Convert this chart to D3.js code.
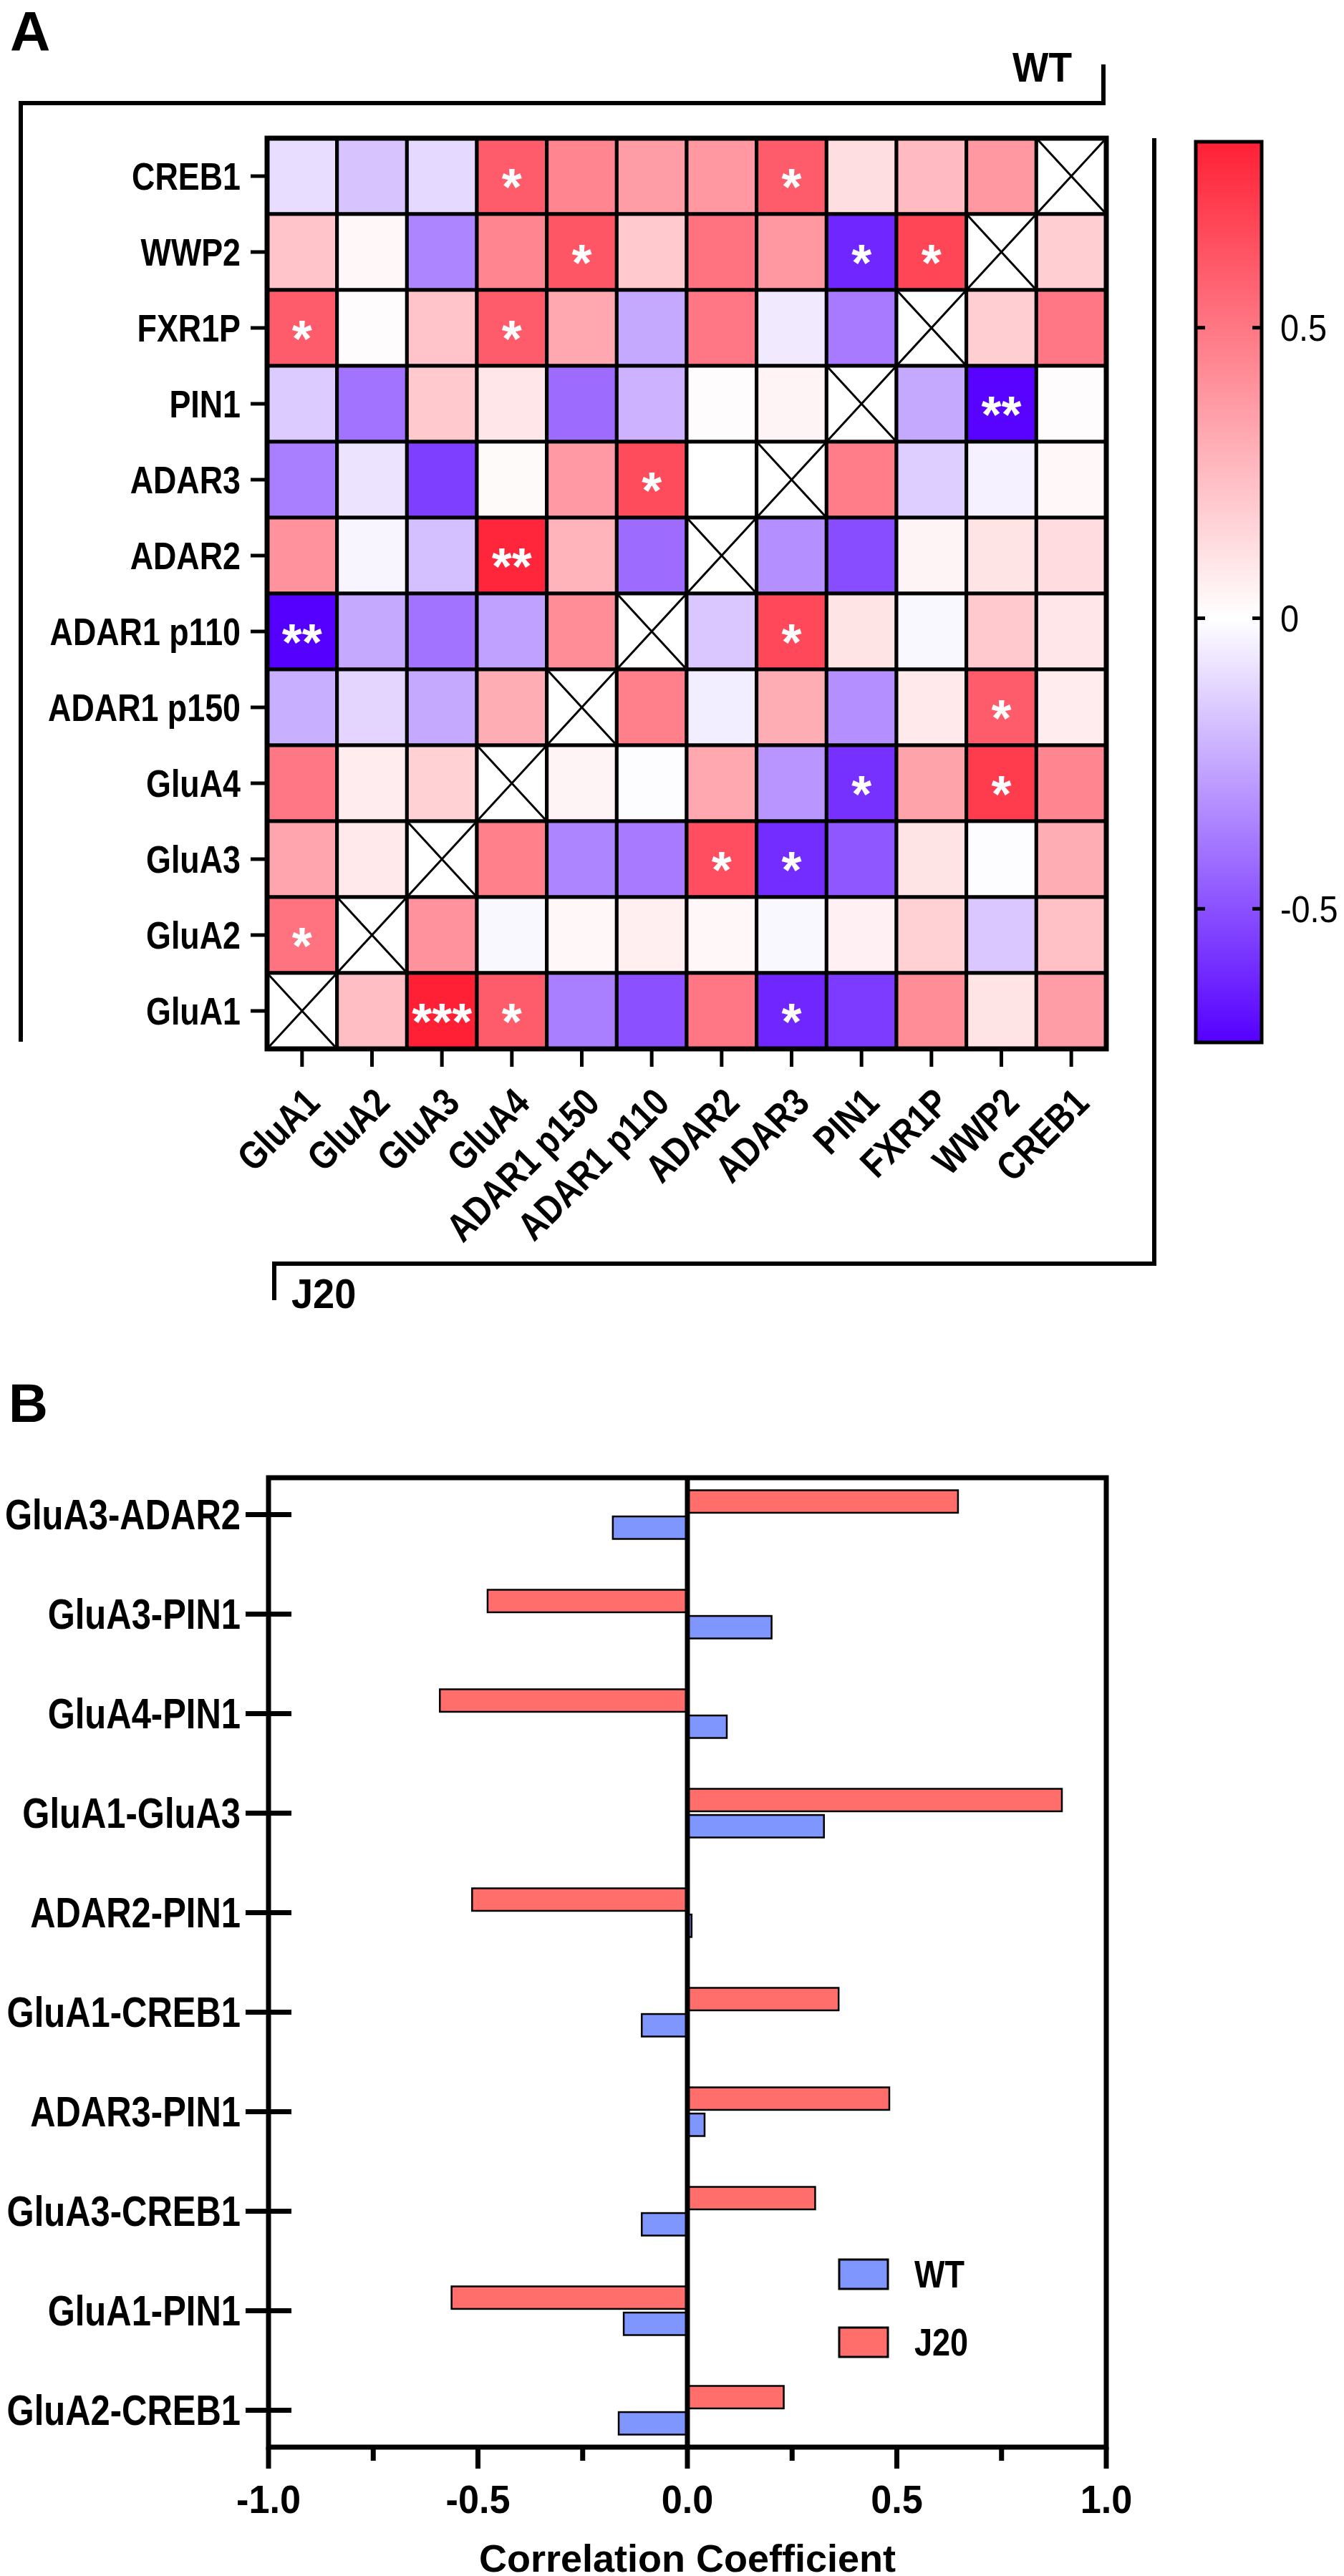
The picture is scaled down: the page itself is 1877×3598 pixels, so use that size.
<!DOCTYPE html>
<html><head><meta charset="utf-8">
<script src="https://cdn.jsdelivr.net/npm/d3@7"></script>
<style>
body{margin:0;background:#fff}
svg{display:block}
text{font-family:"Liberation Sans",Arial,Helvetica,sans-serif}
</style>
</head><body>
<svg id="chart" width="1877" height="3598"></svg>
<script>
// ---------- DATA ----------
const genes = ["GluA1","GluA2","GluA3","GluA4","ADAR1 p150","ADAR1 p110","ADAR2","ADAR3","PIN1","FXR1P","WWP2","CREB1"];
const heatRows = genes.slice().reverse(); // top-to-bottom order as drawn
// rows top-to-bottom (CREB1 ... GluA1), columns GluA1 ... CREB1; null = diagonal
const heatValues = [
  [-0.10,-0.17,-0.11, 0.60, 0.45, 0.36, 0.38, 0.60, 0.12, 0.25, 0.38, null],
  [ 0.22, 0.03,-0.35, 0.45, 0.62, 0.20, 0.52, 0.38,-0.62, 0.68, null, 0.18],
  [ 0.60, 0.01, 0.22, 0.60, 0.32,-0.25, 0.50,-0.06,-0.38, null, 0.18, 0.50],
  [-0.15,-0.40, 0.20, 0.09,-0.42,-0.22, 0.01, 0.04, null,-0.25,-0.72, 0.01],
  [-0.37,-0.08,-0.55, 0.02, 0.37, 0.66, 0.00, null, 0.48,-0.14,-0.04, 0.03],
  [ 0.40,-0.03,-0.18, 0.80, 0.28,-0.42, null,-0.32,-0.51, 0.04, 0.10, 0.13],
  [-0.73,-0.25,-0.40,-0.27, 0.42, null,-0.16, 0.67, 0.10,-0.02, 0.20, 0.09],
  [-0.23,-0.12,-0.25, 0.30, null, 0.47,-0.05, 0.30,-0.32, 0.08, 0.60, 0.07],
  [ 0.50, 0.07, 0.17, null, 0.04,-0.01, 0.32,-0.30,-0.59, 0.34, 0.72, 0.45],
  [ 0.33, 0.08, null, 0.47,-0.35,-0.38, 0.65,-0.60,-0.48, 0.10,-0.01, 0.30],
  [ 0.52, null, 0.40,-0.02, 0.03, 0.06, 0.03,-0.02, 0.05, 0.17,-0.16, 0.23],
  [ null, 0.24, 0.89, 0.60,-0.37,-0.50, 0.50,-0.62,-0.56, 0.42, 0.10, 0.36]
];
const heatStars = [
  ["","","","*","","","","*","","","",""],
  ["","","","","*","","","","*","*","",""],
  ["*","","","*","","","","","","","",""],
  ["","","","","","","","","","","**",""],
  ["","","","","","*","","","","","",""],
  ["","","","**","","","","","","","",""],
  ["**","","","","","","","*","","","",""],
  ["","","","","","","","","","","*",""],
  ["","","","","","","","","*","","*",""],
  ["","","","","","","*","*","","","",""],
  ["*","","","","","","","","","","",""],
  ["","","***","*","","","","*","","","",""]
];
const colorDomain = [-0.73, 0, 0.82];
const colorRange = ["#5500ff", "#ffffff", "#ff2035"];
const colorbarTicks = [0.5, 0, -0.5];

const pairs = ["GluA3-ADAR2","GluA3-PIN1","GluA4-PIN1","GluA1-GluA3","ADAR2-PIN1","GluA1-CREB1","ADAR3-PIN1","GluA3-CREB1","GluA1-PIN1","GluA2-CREB1"];
const seriesNames = ["J20","WT"];
const legendOrder = ["WT","J20"];
const j20Values = [0.646,-0.477,-0.591,0.894,-0.514,0.361,0.482,0.305,-0.563,0.230];
const wtValues  = [-0.178,0.201,0.094,0.326,0.010,-0.109,0.041,-0.109,-0.152,-0.164];
const xTicksMajor = [-1,-0.5,0,0.5,1];
const xTicksMinor = [-0.75,-0.25,0.25,0.75];
const seriesColors = {WT:"#8096ff", J20:"#ff6e6a"};

// ---------- HELPERS ----------
const SX = 0.83; // horizontal condensation of label text
function condense(sel, sx) {
  sel.each(function(){
    const t = d3.select(this);
    const x = +t.attr("x") || 0, y = +t.attr("y") || 0;
    const prev = t.attr("transform") || "";
    t.attr("x",0).attr("y",0).attr("transform", `${prev} translate(${x},${y}) scale(${sx},1)`);
  });
}

// ---------- DRAW ----------
const svg = d3.select("#chart");
svg.append("rect").attr("width",1877).attr("height",3598).attr("fill","#fff");

// Panel letters
svg.append("text").attr("x",14).attr("y",71).attr("font-size",78).attr("font-weight","bold").text("A");
svg.append("text").attr("x",12).attr("y",1986).attr("font-size",76).attr("font-weight","bold").text("B");

// ---- Heatmap ----
const hm = {x0:373, x1:1545, y0:193, y1:1465};
const hx = d3.scaleBand().domain(genes).range([hm.x0, hm.x1]);
const hy = d3.scaleBand().domain(heatRows).range([hm.y0, hm.y1]);
const color = d3.scaleLinear().domain(colorDomain).range(colorRange).clamp(true);

const cells = [];
heatRows.forEach((r,i)=>genes.forEach((c,j)=>cells.push({r, c, v:heatValues[i][j], s:heatStars[i][j]})));

const hg = svg.append("g");
hg.selectAll("rect.cell").data(cells).join("rect").attr("class","cell")
  .attr("x",d=>hx(d.c)).attr("y",d=>hy(d.r))
  .attr("width",hx.bandwidth()).attr("height",hy.bandwidth())
  .attr("fill",d=>d.v==null?"#fff":color(d.v))
  .attr("stroke","#000").attr("stroke-width",5);

const diag = cells.filter(d=>d.v==null);
hg.selectAll("path.x").data(diag).join("path").attr("class","x")
  .attr("d",d=>{const x=hx(d.c), y=hy(d.r), w=hx.bandwidth(), h=hy.bandwidth();
    return `M${x},${y}L${x+w},${y+h}M${x+w},${y}L${x},${y+h}`;})
  .attr("stroke","#000").attr("stroke-width",3).attr("fill","none");

hg.selectAll("text.star").data(cells.filter(d=>d.s)).join("text").attr("class","star")
  .attr("x",d=>hx(d.c)+hx.bandwidth()/2)
  .attr("y",d=>hy(d.r)+hy.bandwidth()/2+40)
  .attr("text-anchor","middle").attr("fill","#fff").attr("font-weight","bold").attr("font-size",72)
  .text(d=>d.s);

hg.append("rect").attr("x",hm.x0).attr("y",hm.y0).attr("width",hm.x1-hm.x0).attr("height",hm.y1-hm.y0)
  .attr("fill","none").attr("stroke","#000").attr("stroke-width",7);

// heatmap axes
svg.append("g").attr("transform",`translate(${hm.x0},0)`)
  .call(d3.axisLeft(hy).tickSize(23).tickPadding(14))
  .call(a=>{a.select(".domain").remove();
    a.selectAll(".tick line").attr("stroke","#000").attr("stroke-width",5);
    a.selectAll(".tick text").attr("font-size",54).attr("font-weight","bold").attr("fill","#000").attr("dy","0.35em")
      .call(condense, SX);});

svg.append("g").attr("transform",`translate(0,${hm.y1})`)
  .call(d3.axisBottom(hx).tickSize(25))
  .call(a=>{a.select(".domain").remove();
    a.selectAll(".tick line").attr("stroke","#000").attr("stroke-width",5);
    a.selectAll(".tick text").attr("font-size",55).attr("font-weight","bold").attr("fill","#000")
      .attr("y",0).attr("dy","0.35em").attr("text-anchor","end")
      .attr("transform","translate(14,65) rotate(-45)")
      .call(condense, SX);});

// brackets
svg.append("path").attr("d","M29,1455V144H1541V90").attr("fill","none").attr("stroke","#000").attr("stroke-width",6);
svg.append("text").attr("x",1497).attr("y",114).attr("text-anchor","end").attr("font-size",58).attr("font-weight","bold").text("WT")
  .call(condense, 0.92);
svg.append("path").attr("d","M1612,193V1765H383V1816").attr("fill","none").attr("stroke","#000").attr("stroke-width",6);
svg.append("text").attr("x",407).attr("y",1827).attr("font-size",57).attr("font-weight","bold").text("J20")
  .call(condense, 0.95);

// colorbar
const cb = {x0:1670, x1:1762, y0:198, y1:1456};
const cy = d3.scaleLinear().domain([colorDomain[0], colorDomain[2]]).range([cb.y1, cb.y0]);
const defs = svg.append("defs");
const grad = defs.append("linearGradient").attr("id","cbgrad").attr("x1",0).attr("y1",1).attr("x2",0).attr("y2",0);
grad.selectAll("stop").data(colorDomain).join("stop")
  .attr("offset",d=>(d-colorDomain[0])/(colorDomain[2]-colorDomain[0]))
  .attr("stop-color",d=>color(d));
svg.append("rect").attr("x",cb.x0).attr("y",cb.y0).attr("width",cb.x1-cb.x0).attr("height",cb.y1-cb.y0)
  .attr("fill","url(#cbgrad)").attr("stroke","#000").attr("stroke-width",5);
const cbt = svg.append("g");
colorbarTicks.forEach(t=>{
  cbt.append("line").attr("x1",cb.x0).attr("x2",cb.x0+13).attr("y1",cy(t)).attr("y2",cy(t)).attr("stroke","#000").attr("stroke-width",5);
  cbt.append("line").attr("x1",cb.x1-13).attr("x2",cb.x1).attr("y1",cy(t)).attr("y2",cy(t)).attr("stroke","#000").attr("stroke-width",5);
  cbt.append("text").attr("x",1788).attr("y",cy(t)).attr("dy","0.35em").attr("font-size",52).text(String(t))
    .call(condense, 0.9);
});

// ---- Bar chart ----
const bc = {x0:375, x1:1545, y0:2064, y1:3418};
const bx = d3.scaleLinear().domain([-1,1]).range([bc.x0, bc.x1]);
const by = d3.scaleBand().domain(pairs).range([2046, 3436]);
const bs = d3.scaleBand().domain(seriesNames).range([by.bandwidth()/2-34, by.bandwidth()/2+34]).paddingInner(0.14);

const barData = [];
pairs.forEach((p,i)=>{
  barData.push({p, s:"J20", v:j20Values[i]});
  barData.push({p, s:"WT", v:wtValues[i]});
});
svg.append("g").selectAll("rect").data(barData).join("rect")
  .attr("x",d=>bx(Math.min(0,d.v))).attr("width",d=>Math.abs(bx(d.v)-bx(0)))
  .attr("y",d=>by(d.p)+bs(d.s)).attr("height",bs.bandwidth())
  .attr("fill",d=>seriesColors[d.s]).attr("stroke","#000").attr("stroke-width",2.5);

// frame
svg.append("rect").attr("x",bc.x0).attr("y",bc.y0).attr("width",bc.x1-bc.x0).attr("height",bc.y1-bc.y0)
  .attr("fill","none").attr("stroke","#000").attr("stroke-width",7);
// zero line
svg.append("line").attr("x1",bx(0)).attr("x2",bx(0)).attr("y1",bc.y0).attr("y2",bc.y1)
  .attr("stroke","#000").attr("stroke-width",7);

// y ticks and labels
const yl = svg.append("g");
yl.selectAll("line").data(pairs).join("line")
  .attr("x1",bc.x0-32).attr("x2",bc.x0+32)
  .attr("y1",d=>by(d)+by.bandwidth()/2).attr("y2",d=>by(d)+by.bandwidth()/2)
  .attr("stroke","#000").attr("stroke-width",7);
yl.selectAll("text").data(pairs).join("text")
  .attr("x",336).attr("y",d=>by(d)+by.bandwidth()/2).attr("dy","0.35em")
  .attr("text-anchor","end").attr("font-size",59).attr("font-weight","bold").text(d=>d)
  .call(condense, SX);

// x ticks
const xt = svg.append("g");
xt.selectAll("line.maj").data(xTicksMajor).join("line").attr("class","maj")
  .attr("x1",d=>bx(d)).attr("x2",d=>bx(d)).attr("y1",bc.y1).attr("y2",bc.y1+30)
  .attr("stroke","#000").attr("stroke-width",7);
xt.selectAll("line.min").data(xTicksMinor).join("line").attr("class","min")
  .attr("x1",d=>bx(d)).attr("x2",d=>bx(d)).attr("y1",bc.y1).attr("y2",bc.y1+19)
  .attr("stroke","#000").attr("stroke-width",7);
xt.selectAll("text").data(xTicksMajor).join("text")
  .attr("x",d=>bx(d)).attr("y",3510).attr("text-anchor","middle")
  .attr("font-size",55).attr("font-weight","bold").text(d=>d.toFixed(1))
  .call(condense, 0.95);
svg.append("text").attr("x",bx(0)).attr("y",3592).attr("text-anchor","middle")
  .attr("font-size",54).attr("font-weight","bold").text("Correlation Coefficient");

// legend
const lg = svg.append("g");
legendOrder.forEach((s,i)=>{
  const yy = 3156 + i*95;
  lg.append("rect").attr("x",1172).attr("y",yy).attr("width",68).attr("height",41)
    .attr("fill",seriesColors[s]).attr("stroke","#000").attr("stroke-width",3);
  lg.append("text").attr("x",1277).attr("y",yy+20.5).attr("dy","0.35em")
    .attr("font-size",53).attr("font-weight","bold").text(s)
    .call(condense, 0.85);
});
</script>
</body></html>
